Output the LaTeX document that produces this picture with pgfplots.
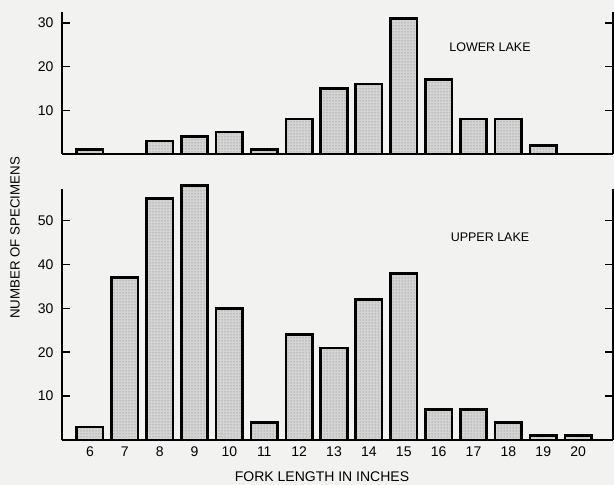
\documentclass[border=0pt]{standalone}
\usepackage{fontspec}
\setmainfont{Liberation Sans}
\usepackage{pgfplots}
\pgfplotsset{compat=1.18}
\usetikzlibrary{patterns}

\definecolor{paper}{RGB}{242,242,240}
\definecolor{barfill}{RGB}{212,212,212}

\pgfplotsset{
  lake/.style={
    scale only axis,
    width=551pt,
    xmin=5.2, xmax=21,
    ymin=0,
    axis x line*=bottom,
    axis y line*=box,
    axis line style={line width=2.1pt},
    tick align=inside,
    major tick length=8pt,
    tick style={line width=1.6pt, black},
    xtick style={draw=none},
    yticklabel pos=left,
    yticklabel style={font=\fontsize{14}{16}\selectfont, xshift=-5pt},
    xticklabel style={font=\fontsize{14}{16}\selectfont, yshift=5pt},
    /pgf/number format/assume math mode=true,
    ybar,
    bar width=0.76,
    bar shift=0pt,
    clip=false,
  },
  lakebars/.style={
    draw=black, line width=2.6pt, fill=barfill,
    postaction={pattern=dots, pattern color=black!55},
  },
}

\begin{document}
\begin{tikzpicture}
\fill[paper] (0,0) rectangle (614pt,485pt);

% lower lake (top panel)
\begin{axis}[lake,
  at={(62pt,331pt)}, anchor=south west,
  height=142pt,
  ymax=32.5,
  ytick={10,20,30},
  xtick=\empty,
]
\addplot[lakebars] coordinates {
  (6,1) (8,3) (9,4) (10,5) (11,1) (12,8) (13,15) (14,16)
  (15,31) (16,17) (17,8) (18,8) (19,2)
};
\end{axis}

% upper lake (bottom panel)
\begin{axis}[lake,
  at={(62pt,45pt)}, anchor=south west,
  height=251pt,
  ymax=57.2,
  ytick={10,20,30,40,50},
  xtick={6,7,...,20},
]
\addplot[lakebars] coordinates {
  (6,3) (7,37) (8,55) (9,58) (10,30) (11,4) (12,24) (13,21)
  (14,32) (15,38) (16,7) (17,7) (18,4) (19,1) (20,1)
};
\end{axis}

\node[font=\fontsize{12.5}{14}\selectfont] at (490pt,438pt) {LOWER LAKE};
\node[font=\fontsize{12.5}{14}\selectfont] at (490pt,248pt) {UPPER LAKE};
\node[font=\fontsize{14}{16}\selectfont] at (322pt,8pt) {FORK LENGTH IN INCHES};
\node[font=\fontsize{13.3}{15}\selectfont, rotate=90] at (15pt,247pt) {NUMBER OF SPECIMENS};

\pgfresetboundingbox
\useasboundingbox (0,0) rectangle (614pt,485pt);
\end{tikzpicture}
\end{document}
